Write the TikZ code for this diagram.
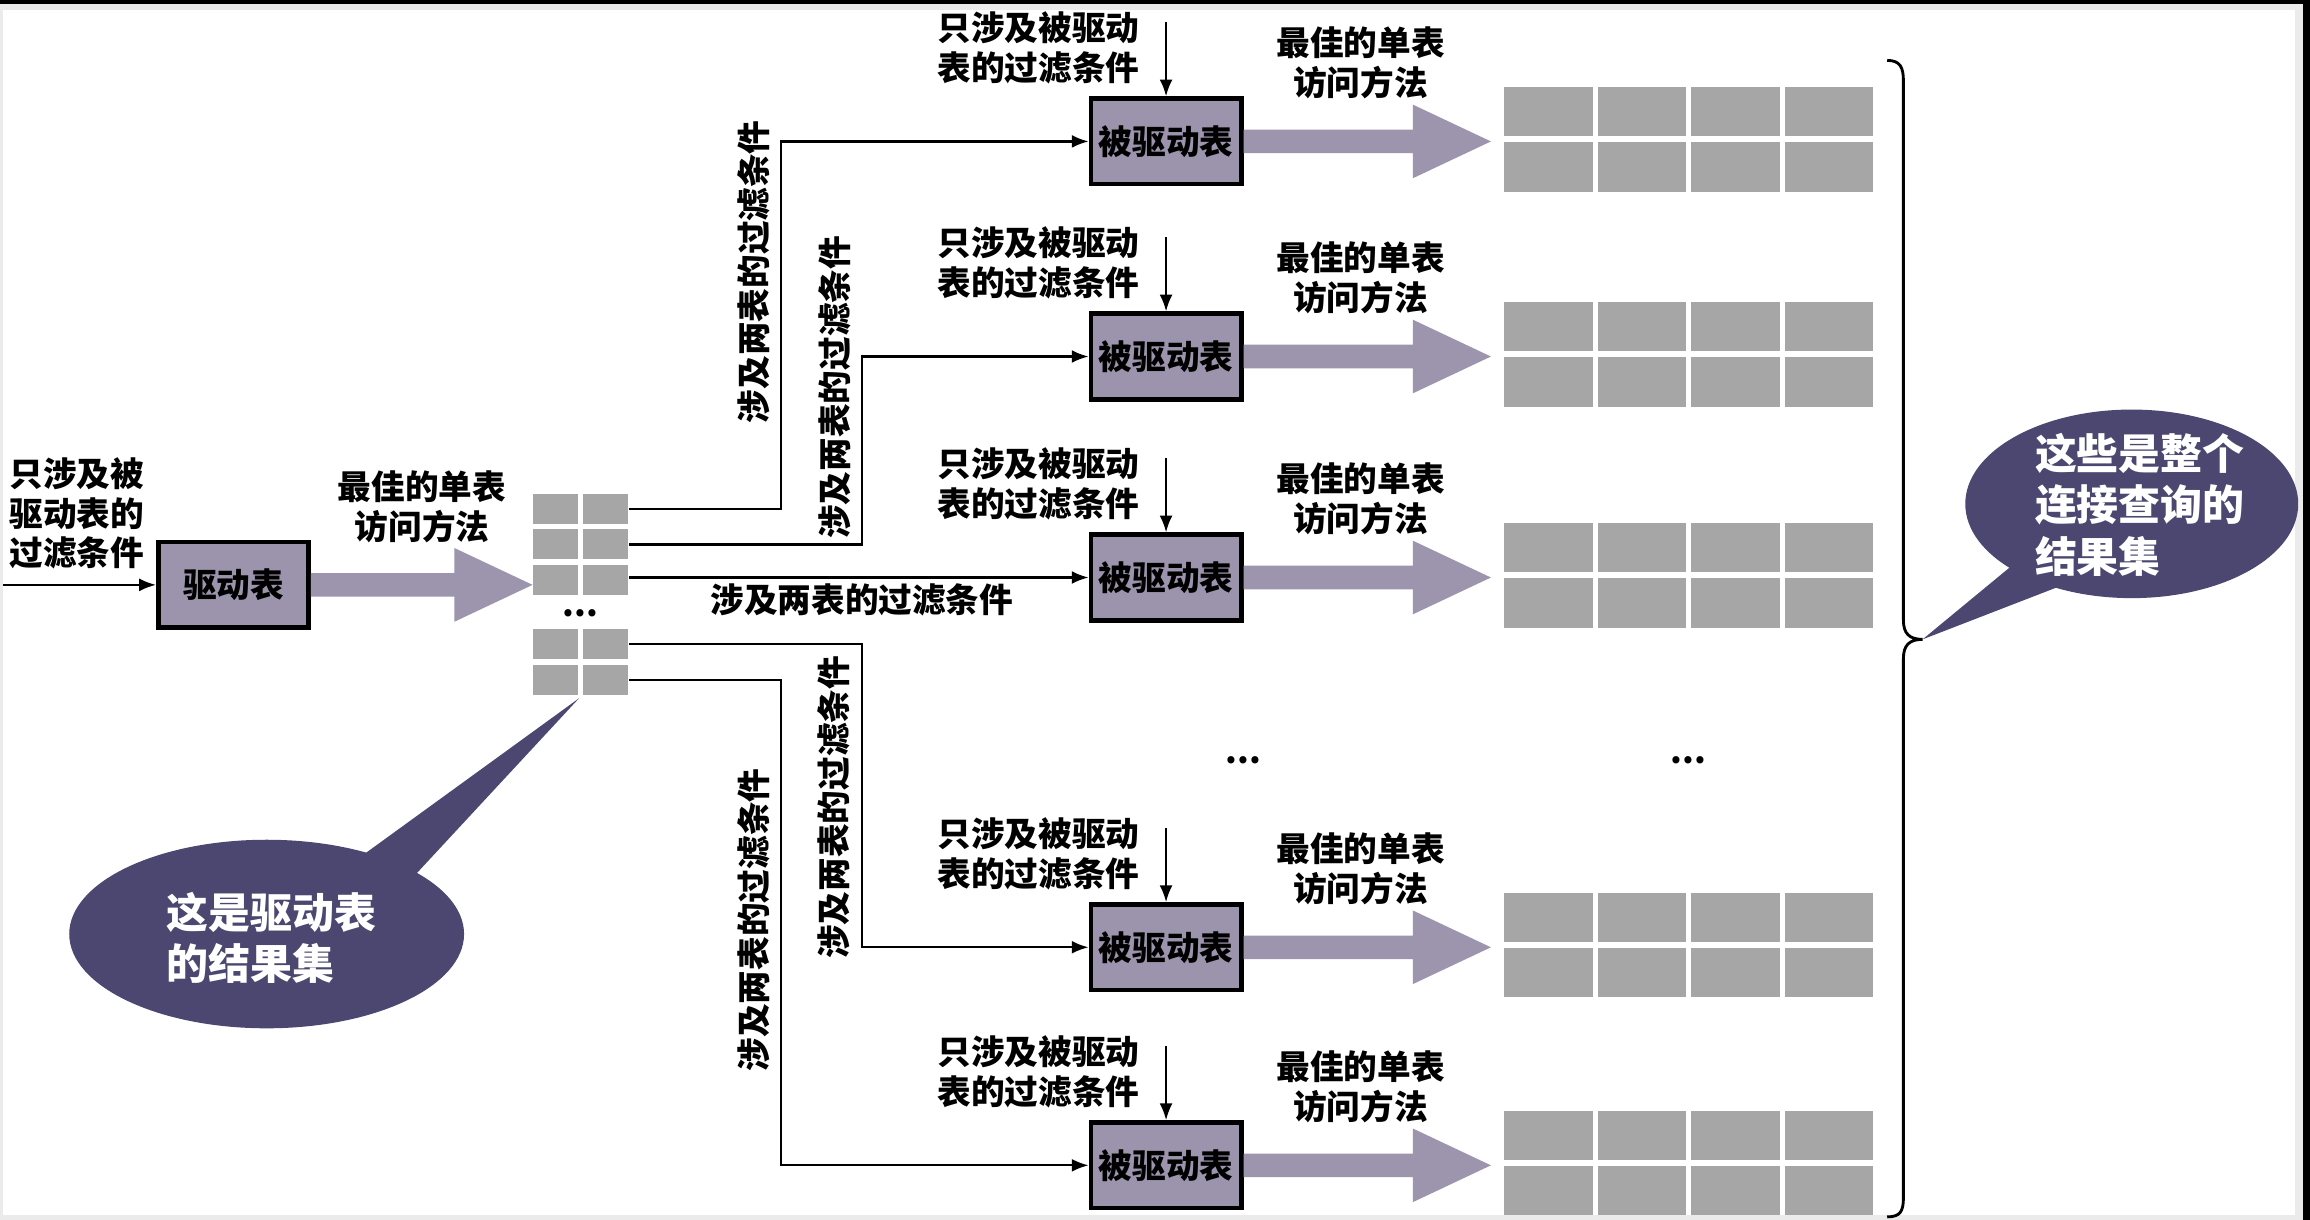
\documentclass[tikz,border=0pt]{standalone}
\usepackage{fontspec}
\setmainfont{Noto Sans CJK SC}
\usetikzlibrary{arrows.meta,calc}
\definecolor{boxc}{HTML}{9C94AD}
\definecolor{fatc}{HTML}{9D95AE}
\definecolor{callc}{HTML}{4B4770}
\definecolor{cellc}{HTML}{A6A6A6}
\definecolor{edgec}{HTML}{EBEBEB}
\newcommand\fatarrow[2]{%
  \fill[fatc] ($(#1)+(0,-8)$) -- ($(#2)+(-53,-8)$) -- ($(#2)+(-53,-25)$) -- (#2)
    -- ($(#2)+(-53,25)$) -- ($(#2)+(-53,8)$) -- ($(#1)+(0,8)$) -- cycle;}
\begin{document}
\begin{tikzpicture}[x=0.02cm,y=-0.02cm,
  txt/.style={font=\fontsize{13}{15.4}\selectfont\bfseries, inner sep=0pt, align=center},
  tbox/.style={draw=black, line width=1.8pt, fill=boxc, minimum width=2.04cm,
    minimum height=1.16cm, inner sep=0pt, font=\fontsize{13}{15.4}\selectfont\bfseries},
  conn/.style={line width=0.9pt, -{Latex[length=6.5pt,width=5pt]}},
  calltxt/.style={font=\fontsize{16.2}{19.9}\selectfont\bfseries, text=white, inner sep=0pt, align=left, anchor=west},
  cell/.style={fill=cellc}]
\useasboundingbox (0,0) rectangle (1568,828);
% frame
\fill[edgec] (0,0) rectangle (1568,828);
\fill[white] (2,6.8) rectangle (1558,825);
\fill[black] (0,0) rectangle (1568,2.7);
\fill[black] (1563,0) rectangle (1568,828);

% driving table
\node[tbox] (dr) at (158.5,397) {驱动表};
\coordinate (in) at (2,397);
\draw[conn] (in) -- (dr.west);
\node[txt, align=left, anchor=west] (intxt) at (6,348.5) {只涉及被\\驱动表的\\过滤条件};
\coordinate (gl) at (361.5,397);
\fatarrow{dr.east}{gl}
\node[txt] (bestm) at (286.5,344) {最佳的单表\\访问方法};

% driving result set grid
\foreach \yy in {335.4,359.3,383.6,427.2,451.4}{
  \fill[cell] (361.5,\yy) rectangle ++(31,20.4);
  \fill[cell] (395.5,\yy) rectangle ++(31,20.4);
}
\node[txt] (gdots) at (394,416) {...};

% driven tables
\foreach \i/\c in {1/96,2/242,3/392,4/643,5/791}{
  \node[tbox] (d\i) at (791.5,\c) {被驱动表};
  \coordinate (t\i) at (791.5,\c-81);
  \draw[conn] (t\i) -- (d\i.north);
  \node[txt] (f\i) at (705,\c-63.5) {只涉及被驱动\\表的过滤条件};
  \node[txt] (b\i) at (923.5,\c-53.5) {最佳的单表\\访问方法};
  \coordinate (r\i) at (1012,\c);
  \fatarrow{d\i.east}{r\i}
  \foreach \k in {0,1,2,3}{
    \fill[cell] (1021+63.5*\k,\c-37) rectangle ++(60,33.5);
    \fill[cell] (1021+63.5*\k,\c+0.5) rectangle ++(60,33.5);
  }
}

% connectors from driving result set
\coordinate (s1) at (427,345.7);
\coordinate (s2) at (427,369.5);
\coordinate (s3) at (427,392);
\coordinate (s4) at (427,437);
\coordinate (s5) at (427,461.6);
\coordinate (v1) at (530,300);
\coordinate (v2) at (585,300);
\coordinate (v4) at (585,550);
\coordinate (v5) at (530,600);
\draw[conn] (s1) -| (v1) |- (d1.west);
\draw[conn] (s2) -| (v2) |- (d2.west);
\draw[conn] (s3) -- (d3.west);
\draw[conn] (s4) -| (v4) |- (d4.west);
\draw[conn] (s5) -| (v5) |- (d5.west);
\node[txt, rotate=90] (l1) at (512,184.5) {涉及两表的过滤条件};
\node[txt, rotate=90] (l2) at (567,263) {涉及两表的过滤条件};
\node[txt] (l3) at (585,407) {涉及两表的过滤条件};
\node[txt, rotate=90] (l4) at (566,548) {涉及两表的过滤条件};
\node[txt, rotate=90] (l5) at (512,624.5) {涉及两表的过滤条件};

\node[txt] (dots1) at (844,516) {...};
\node[txt] (dots2) at (1146,516) {...};

% brace
\draw[line width=1.1pt] (1281,41) .. controls (1290,41) and (1292,46) .. (1292,55)
  -- (1292,421) .. controls (1292,430) and (1296,434) .. (1305,434)
  .. controls (1296,434) and (1292,438) .. (1292,447)
  -- (1292,813) .. controls (1292,822) and (1290,826) .. (1281,826);

% callout: driving result set
\fill[callc] (181,634) ellipse [x radius=134, y radius=64];
\fill[callc] (240,585) -- (393,474) -- (278,598) -- cycle;
\node[calltxt] (c1) at (113,636.5) {这是驱动表\\的结果集};

% callout: whole result set
\fill[callc] (1447,342) ellipse [x radius=113, y radius=64];
\fill[callc] (1368,382) -- (1305,434) -- (1398,398) -- cycle;
\node[calltxt] (c2) at (1381,342.5) {这些是整个\\连接查询的\\结果集};
\end{tikzpicture}
\end{document}
